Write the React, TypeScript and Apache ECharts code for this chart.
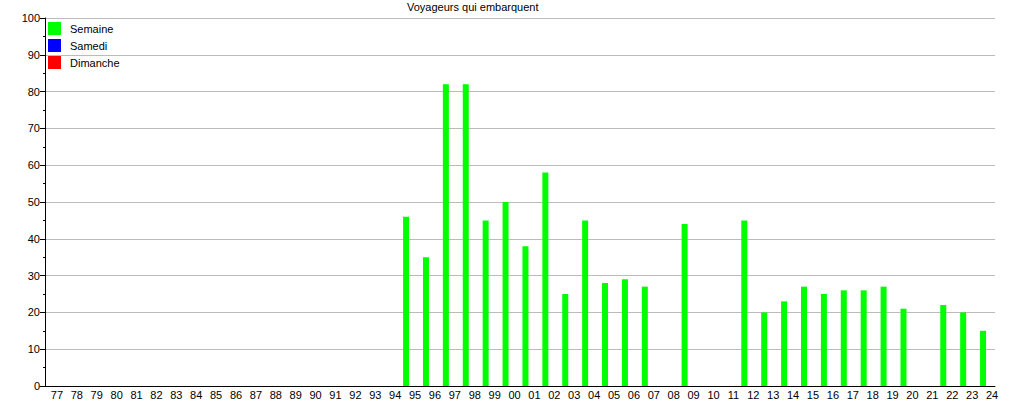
import React, { useEffect, useRef } from "react";
import * as echarts from "echarts";

const years: string[] = [
  "77","78","79","80","81","82","83","84","85","86","87","88","89","90","91","92","93","94","95","96","97","98","99",
  "00","01","02","03","04","05","06","07","08","09","10","11","12","13","14","15","16","17","18","19","20","21","22","23","24",
];

const semaine: (number | null)[] = [
  null,null,null,null,null,null,null,null,null,null,null,null,null,null,null,null,null,null,
  46,35,82,82,45,
  50,38,58,25,45,28,29,27,null,44,null,null,45,20,23,27,25,26,26,27,21,null,22,20,15,
];
const samedi: (number | null)[] = years.map(() => null);
const dimanche: (number | null)[] = years.map(() => null);

const FONT = "'Liberation Sans', Arial, sans-serif";

export default function App() {
  const ref = useRef<HTMLDivElement>(null);
  useEffect(() => {
    if (!ref.current) return;
    const chart = echarts.init(ref.current, undefined, { renderer: "svg" });
    chart.setOption({
      animation: false,
      backgroundColor: "#ffffff",
      textStyle: { fontFamily: FONT },
      title: {
        text: "Voyageurs qui embarquent",
        left: 407,
        top: 1,
        padding: 0,
        textStyle: { fontFamily: FONT, fontSize: 11, fontWeight: "normal", color: "#000" },
      },
      legend: {
        orient: "vertical",
        left: 48,
        top: 22,
        padding: 0,
        itemWidth: 13,
        itemHeight: 13,
        itemGap: 4,
        icon: "rect",
        textStyle: { fontFamily: FONT, fontSize: 11, color: "#000", padding: [0, 0, 0, 4] },
        data: ["Semaine", "Samedi", "Dimanche"],
      },
      grid: { left: 40, right: 20, top: 18, bottom: 12, containLabel: false },
      xAxis: {
        type: "category",
        data: years,
        boundaryGap: true,
        axisLine: { lineStyle: { color: "#000", width: 1 } },
        axisTick: { show: false },
        axisLabel: {
          interval: 0,
          margin: 3,
          padding: [0, 0, 0, 14],
          fontFamily: FONT,
          fontSize: 11,
          color: "#000",
        },
        splitLine: { show: false },
      },
      yAxis: {
        type: "value",
        min: 0,
        max: 100,
        interval: 10,
        offset: -5,
        axisLine: { show: true, lineStyle: { color: "#000", width: 1 } },
        axisTick: { show: true, length: 5, lineStyle: { color: "#000" } },
        minorTick: { show: true, splitNumber: 2, length: 2, lineStyle: { color: "#000" } },
        axisLabel: { margin: 5, fontFamily: FONT, fontSize: 11, color: "#000" },
        splitLine: { show: true, lineStyle: { color: "#bbbbbb", width: 1 } },
      },
      series: [
        {
          name: "Semaine",
          type: "bar",
          data: semaine,
          barWidth: 6,
          barGap: "-66.7%",
          itemStyle: { color: "#00ff00" },
        },
        {
          name: "Samedi",
          type: "bar",
          data: samedi,
          barWidth: 6,
          barGap: "-66.7%",
          itemStyle: { color: "#0000ff" },
        },
        {
          name: "Dimanche",
          type: "bar",
          data: dimanche,
          barWidth: 6,
          barGap: "-66.7%",
          itemStyle: { color: "#ff0000" },
        },
      ],
    });
    return () => chart.dispose();
  }, []);
  return <div ref={ref} style={{ width: 1015, height: 400, position: "absolute", left: 0, top: 0 }} />;
}
